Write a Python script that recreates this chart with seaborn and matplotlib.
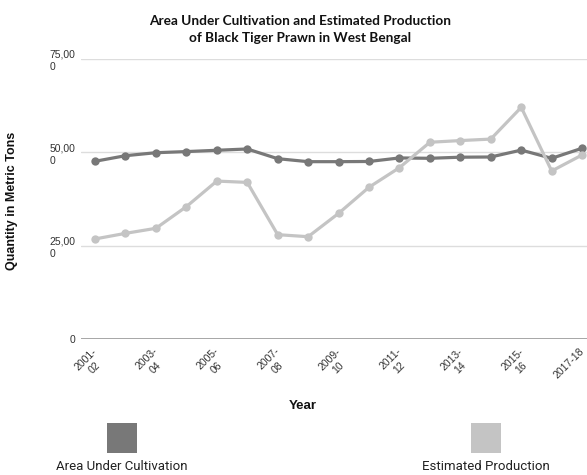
import matplotlib
matplotlib.use("Agg")
import matplotlib.pyplot as plt
import matplotlib.patches as mpatches
import matplotlib.transforms as mtransforms
import numpy as np
import pandas as pd
import seaborn as sns

# ── Data ───────────────────────────────────────────────────────────────────────
years = ["2001-02", "2002-03", "2003-04", "2004-05", "2005-06", "2006-07",
         "2007-08", "2008-09", "2009-10", "2010-11", "2011-12", "2012-13",
         "2013-14", "2014-15", "2015-16", "2016-17", "2017-18"]
area = [47600, 49100, 49900, 50200, 50550, 50900, 48300, 47500, 47500,
        47550, 48500, 48400, 48700, 48750, 50600, 48400, 51100]
production = [26800, 28300, 29650, 35450, 42300, 41950, 27950, 27400, 33650,
              40650, 45900, 52700, 53150, 53550, 62050, 45000, 49300]
tick_labels = ["2001-\n02", "2003-\n04", "2005-\n06", "2007-\n08", "2009-\n10",
               "2011-\n12", "2013-\n14", "2015-\n16", "2017-18"]
y_ticks = [0, 25000, 50000, 75000]
y_tick_labels = ["0", "25,00\n0", "50,00\n0", "75,00\n0"]

series_names = ["Area Under Cultivation", "Estimated Production"]
palette = {"Area Under Cultivation": "#787878",
           "Estimated Production": "#c4c4c4"}

df = pd.DataFrame({
    "idx": list(range(len(years))) * 2,
    "value": area + production,
    "series": [series_names[0]] * len(years) + [series_names[1]] * len(years),
})

# ── Figure ─────────────────────────────────────────────────────────────────────
sns.set_style("white")
plt.rcParams["font.family"] = ["Liberation Sans", "DejaVu Sans"]

fig = plt.figure(figsize=(5.87, 4.75), dpi=100)
ax = fig.add_axes([0.138, 0.2863, 0.862, 0.5895])

sns.lineplot(data=df, x="idx", y="value", hue="series", hue_order=series_names,
             palette=palette, marker="o", markersize=6, markeredgewidth=0,
             linewidth=2.3, ax=ax, legend=False, zorder=3)
for ln in ax.get_lines():
    ln.set_clip_on(False)

ax.set_xlim(-0.46, 16.16)
ax.set_ylim(0, 75000)
ax.set_yticks(y_ticks)
ax.set_yticklabels(y_tick_labels, fontsize=7.5, color="#333333",
                   linespacing=1.3, ha="right", multialignment="left")
ax.tick_params(axis="y", length=0, pad=4)
ax.set_xticks(range(0, len(years), 2))
ax.set_xticklabels(tick_labels, fontsize=7.5, color="#333333", rotation=45,
                   ha="right", va="top", rotation_mode="anchor", linespacing=1.3,
                   multialignment="center")
ax.tick_params(axis="x", length=0, pad=5)
# nudge x labels slightly left so the last one stays inside the canvas
shift = mtransforms.ScaledTranslation(-3 / 100, 0, fig.dpi_scale_trans)
for lbl in ax.get_xticklabels():
    lbl.set_transform(lbl.get_transform() + shift)
for s in ax.spines.values():
    s.set_visible(False)
ax.grid(axis="y", color="#dddddd", linewidth=1)
ax.axhline(0, color="#999999", linewidth=1.2, zorder=1)

ax.set_xlabel("Year", fontsize=9.5, fontweight="bold", color="#111111")
ax.xaxis.set_label_coords((303 - 81) / 506, -(400 - 339) / 280)
ax.set_ylabel("Quantity in Metric Tons", fontsize=9, fontweight="bold",
              color="#111111")
ax.yaxis.set_label_coords(-(81 - 18) / 506, 0.493)

fig.text(300 / 587, 0.968, "Area Under Cultivation and Estimated Production\nof Black Tiger Prawn in West Bengal",
         ha="center", va="top", fontsize=9.8, fontweight="bold", family="Lato",
         linespacing=1.45, color="#111111")

# Legend: square swatches with labels below
for name, cx in zip(series_names, [122 / 587, 486 / 587]):
    w, h = 30 / 587, 30 / 475
    fig.add_artist(mpatches.Rectangle((cx - w / 2, 1 - 453 / 475), w, h,
                                      transform=fig.transFigure,
                                      facecolor=palette[name], edgecolor="none"))
    fig.text(cx, 1 - 467 / 475, name, ha="center", va="center",
             fontsize=9.5, family="Roboto", color="#222222")

fig.savefig("out.png", dpi=100)
